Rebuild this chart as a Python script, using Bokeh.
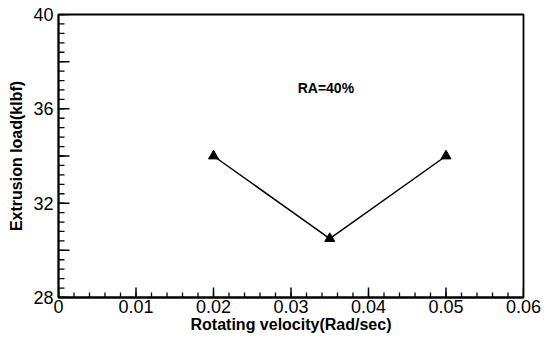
import math
from bokeh.plotting import figure
from bokeh.models import Range1d, FixedTicker, Label
from bokeh.embed import file_html
from bokeh.resources import INLINE

velocity = [0.02, 0.035, 0.05]
load = [34.0, 30.5, 34.0]
x_ticks = [0, 0.01, 0.02, 0.03, 0.04, 0.05, 0.06]
x_minor = [round(i * 0.002, 4) for i in range(31)]
y_ticks = [28, 32, 36, 40]
y_long = [28, 30, 32, 34, 36, 38, 40]
y_minor = [round(28 + i * 0.4, 2) for i in range(31)]

FONT = "Liberation Sans"

p = figure(output_backend="svg", toolbar_location=None,
           frame_width=465, frame_height=283,
           x_range=Range1d(0, 0.06), y_range=Range1d(28, 40),
           min_border_left=58, min_border_right=22, min_border_top=14, min_border_bottom=44)
p.background_fill_color = "white"
p.border_fill_color = "white"
p.grid.visible = False
p.outline_line_color = "black"
p.outline_line_width = 1.8

# inward tick marks drawn as short rays from the axis lines
p.ray(x=x_minor, y=[28] * len(x_minor), length=5, length_units="screen",
      angle=math.pi / 2, line_color="black", line_width=1.3)
p.ray(x=x_ticks, y=[28] * len(x_ticks), length=10, length_units="screen",
      angle=math.pi / 2, line_color="black", line_width=1.5)
p.ray(x=[0] * len(y_minor), y=y_minor, length=6, length_units="screen",
      angle=0, line_color="black", line_width=1.3)
p.ray(x=[0] * len(y_long), y=y_long, length=11, length_units="screen",
      angle=0, line_color="black", line_width=1.5)

p.line(velocity, load, line_color="black", line_width=1.5)
p.scatter(velocity, load, marker="triangle", size=10, fill_color="black", line_color="black")

p.xaxis.ticker = FixedTicker(ticks=x_ticks, minor_ticks=[])
p.yaxis.ticker = FixedTicker(ticks=y_ticks, minor_ticks=[])
p.xaxis.major_label_overrides = {0: "0", 0.01: "0.01", 0.02: "0.02", 0.03: "0.03", 0.04: "0.04", 0.05: "0.05", 0.06: "0.06"}

for ax in (p.xaxis[0], p.yaxis[0]):
    ax.axis_line_color = "black"
    ax.axis_line_width = 1.8
    ax.major_tick_in = 0
    ax.major_tick_out = 0
    ax.minor_tick_in = 0
    ax.minor_tick_out = 0
    ax.major_label_text_font = FONT
    ax.major_label_text_font_size = "18px"
    ax.major_label_text_color = "black"
    ax.axis_label_text_font = FONT
    ax.axis_label_text_font_size = "16px"
    ax.axis_label_text_font_style = "bold"
    ax.axis_label_text_color = "black"

p.xaxis.axis_label = "Rotating velocity(Rad/sec)"
p.yaxis.axis_label = "Extrusion load(klbf)"
p.xaxis.major_label_standoff = 2
p.xaxis.axis_label_standoff = 0
p.yaxis.major_label_standoff = 5
p.yaxis.axis_label_standoff = 5

p.add_layout(Label(x=0.0345, y=36.9, text="RA=40%", text_font=FONT, text_font_size="14px",
                   text_font_style="bold", text_align="center", text_baseline="middle",
                   text_color="black"))

open("out.html", "w").write(file_html(p, INLINE))
